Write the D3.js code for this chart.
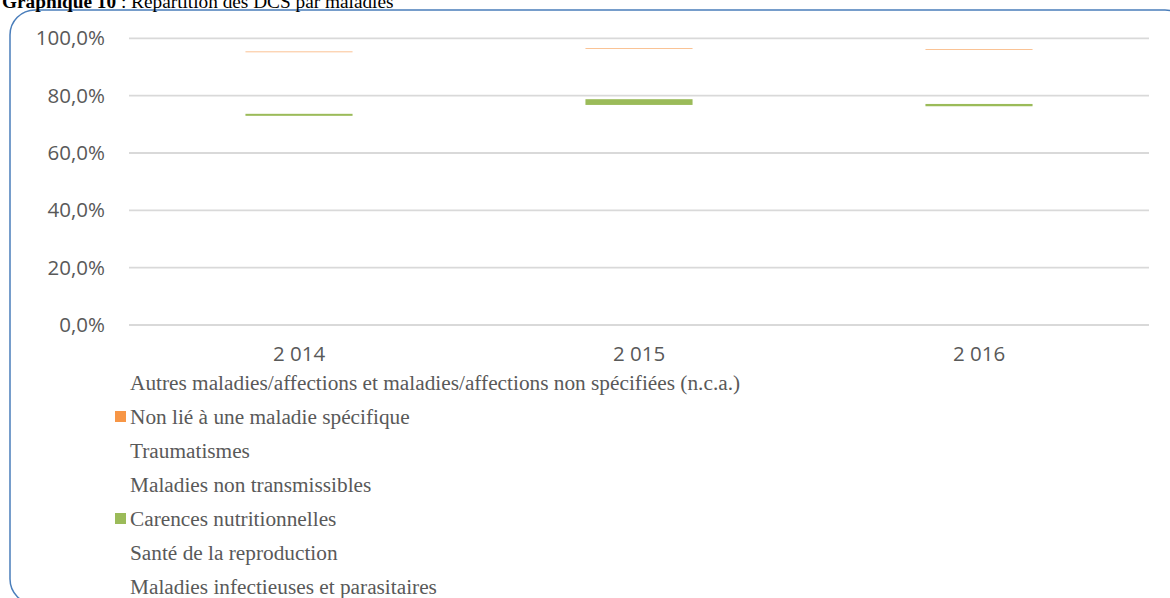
<!DOCTYPE html>
<html>
<head>
<meta charset="utf-8">
<script src="https://cdn.jsdelivr.net/npm/d3@7"></script>
<style>
  body { margin: 0; background: #fff; }
  svg { display: block; }
</style>
</head>
<body>
<div id="chart"></div>
<script>
// years (categories)
var years = ["2 014", "2 015", "2 016"];

// series, bottom of the stack first (percent of DCS)
var infectieuses = [60.5, 63.0, 62.0];
var reproduction = [12.46, 13.76, 14.3];
var carences = [0.7, 2.0, 0.8];
var nonTransmissibles = [18.5, 15.0, 16.0];
var traumatismes = [3.0, 2.54, 2.86];
var nonLie = [0.2, 0.2, 0.2];
var autres = [4.64, 3.5, 3.84];

var seriesNames = [
    "Maladies infectieuses et parasitaires",
    "Santé de la reproduction",
    "Carences nutritionnelles",
    "Maladies non transmissibles",
    "Traumatismes",
    "Non lié à une maladie spécifique",
    "Autres maladies/affections et maladies/affections non spécifiées (n.c.a.)"
];
var seriesValues = [infectieuses, reproduction, carences, nonTransmissibles, traumatismes, nonLie, autres];
// only two series are actually filled in the original
var seriesColors = ["none", "none", "#9bbb59", "none", "none", "#f79646", "none"];

var yTicks = [0, 0.2, 0.4, 0.6, 0.8, 1.0];

var W = 1170, H = 598;
var margin = {top: 38.3, left: 129, right: 21, bottom: 273};

var svg = d3.select("#chart").append("svg")
    .attr("width", W)
    .attr("height", H);

// frame round the chart
svg.append("rect")
    .attr("x", 10).attr("y", 10)
    .attr("width", 1180).attr("height", 594)
    .attr("rx", 25).attr("ry", 25)
    .attr("fill", "none")
    .attr("stroke", "#4a7ebb")
    .attr("stroke-width", 1.5);

// title, top half cut off in the original
var title = svg.append("text")
    .attr("x", 2).attr("y", 8)
    .style("font-family", "'Liberation Serif', 'Times New Roman', serif")
    .style("font-size", "19.3px")
    .style("fill", "#000");
title.append("tspan").style("font-weight", "bold").text("Graphique 10");
title.append("tspan").text(" : Répartition des DCS par maladies");

/*build table for the stack*/
var table = years.map(function (yr, i) {
    var row = {year: yr};
    seriesNames.forEach(function (s, k) { row[s] = seriesValues[k][i]; });
    return row;
});

var stacked = d3.stack()
    .keys(seriesNames)
    .offset(d3.stackOffsetExpand)(table);

var x = d3.scaleBand()
    .domain(years)
    .range([margin.left, W - margin.right])
    .paddingInner(0.685)
    .paddingOuter(0.3425);

var y = d3.scaleLinear()
    .domain([0, 1])
    .range([H - margin.bottom, margin.top]);

// gridlines
svg.append("g")
    .selectAll("line")
    .data(yTicks)
    .enter().append("line")
    .attr("x1", margin.left)
    .attr("x2", W - margin.right)
    .attr("y1", function (d) { return y(d); })
    .attr("y2", function (d) { return y(d); })
    .attr("stroke", "#d9d9d9")
    .attr("stroke-width", 1.8);

var pct = function (d) { return d3.format(".1f")(d * 100).replace(".", ",") + "%"; };

var yAxis = d3.axisLeft(y)
    .tickValues(yTicks)
    .tickFormat(pct)
    .tickSize(0)
    .tickPadding(24);

var gy = svg.append("g")
    .attr("transform", "translate(" + margin.left + ",0)")
    .call(yAxis);
gy.select(".domain").remove();
gy.selectAll("text")
    .style("font-family", "'Open Sans', sans-serif")
    .style("font-size", "20.5px")
    .style("fill", "#595959");

var xAxis = d3.axisBottom(x).tickSize(0).tickPadding(21);
var gx = svg.append("g")
    .attr("transform", "translate(0," + y(0) + ")")
    .call(xAxis);
gx.select(".domain").remove();
gx.selectAll("text")
    .style("font-family", "'Open Sans', sans-serif")
    .style("font-size", "20.5px")
    .style("fill", "#595959");

// bars
var layers = svg.append("g")
    .selectAll("g")
    .data(stacked)
    .enter().append("g")
    .attr("fill", function (d, i) { return seriesColors[i]; });

layers.selectAll("rect")
    .data(function (d) { return d; })
    .enter().append("rect")
    .attr("x", function (d) { return x(d.data.year); })
    .attr("width", x.bandwidth())
    .attr("y", function (d) { return y(d[1]); })
    .attr("height", function (d) { return y(d[0]) - y(d[1]); });

// legend, last series on top
var legendY = d3.scalePoint()
    .domain(seriesNames.slice().reverse())
    .range([383, 587]);

var legend = svg.append("g")
    .selectAll("g")
    .data(seriesNames.slice().reverse())
    .enter().append("g")
    .attr("transform", function (d) { return "translate(130," + legendY(d) + ")"; });

legend.append("rect")
    .attr("x", -15).attr("y", -6)
    .attr("width", 11).attr("height", 11)
    .attr("fill", function (d) { return seriesColors[seriesNames.indexOf(d)]; });

legend.append("text")
    .attr("x", 0)
    .attr("dy", "0.35em")
    .style("font-family", "'Liberation Serif', 'Times New Roman', serif")
    .style("font-size", "21.3px")
    .style("fill", "#595959")
    .text(function (d) { return d; });
</script>
</body>
</html>
